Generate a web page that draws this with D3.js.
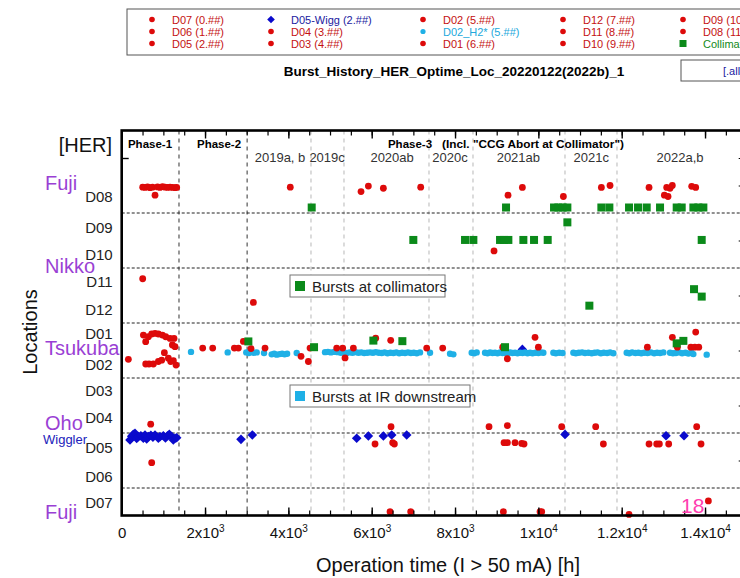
<!DOCTYPE html>
<html><head><meta charset="utf-8">
<script src="https://cdn.jsdelivr.net/npm/d3@7"></script>
<style>
body{margin:0;background:#fff;}
svg{display:block;font-family:"Liberation Sans",Arial,sans-serif;}
</style>
</head><body>
<svg id="c" width="740" height="578"></svg>
<script>
// ---------------- DATA ----------------
// [operation time (h), location value]
const D08 = [[504,11.94],[560,11.93],[620,11.95],[680,11.92],[740,11.94],[800,11.65],[860,11.95],[920,11.93],[980,11.96],[1040,11.94],[1100,11.93],[1160,11.94],[1220,11.93],[1280,11.92],[1320,11.93],
  [4046,11.94],[5744,11.78],[5920,11.98],[6280,11.9],[7176,11.94],[9272,11.65],[9616,11.93],[10600,11.6],[11512,11.93],[11720,12.0],[12656,11.93],[13024,11.65],[13112,11.6],[13080,11.93],[13160,11.9],[13215,12.0],[13680,11.97],[13776,11.93]];
const D10 = [[8936,9.62]];
const D11 = [[504,8.61]];
const D12 = [[3160,7.75]];
const D01 = [[520,6.56],[576,6.32],[640,6.5],[720,6.6],[800,6.62],[880,6.6],[976,6.56],[1056,6.5],[1160,6.44],[1256,6.44],[1216,6.2],[1280,6.14],
  [1944,6.09],[2184,6.09],[2704,6.09],[2800,6.09],[2920,6.33],[3104,6.07],[3440,6.09],[4520,6.09],[5160,6.09],[5304,6.09],[5560,6.09],[6096,6.45],[6456,6.37],[7320,6.09],[7704,6.09],[9144,6.12],[9920,6.48],[10000,6.12],[12616,6.12],[13216,6.48],[13336,6.12],[13660,6.12],[13756,6.12],[13850,6.12],[13776,6.67]];
const D02 = [[160,5.68],[1024,5.92],[576,5.51],[656,5.51],[760,5.51],[880,5.6],[960,5.65],[1120,5.72],[1176,5.6],[1240,5.63],[1304,5.47],[4304,5.79],[4480,5.6],[5360,5.73],[9256,5.7]];
const D04 = [[696,3.32],[6464,3.23],[8816,3.23],[9256,3.27],[10560,3.23],[11376,3.23],[13800,3.23]];
const D05 = [[6080,2.6],[6504,2.65],[6544,2.6],[9176,2.65],[9256,2.65],[9440,2.65],[9600,2.62],[9656,2.6],[11560,2.6],[12656,2.6],[12840,2.6],[12904,2.6],[13128,2.6],[13904,2.6]];
const D06 = [[720,1.92]];
const D07 = [[6440,0.14],[6936,0.14],[9160,0.14],[10040,0.14],[10080,0.14],[12176,0.04],[14080,0.53]];
const D05_Wigg = [[199,2.75],[240,2.88],[279,2.95],[319,2.99],[360,2.8],[399,2.87],[460,2.9],[519,2.81],[559,2.93],[600,2.78],[639,2.87],[700,2.92],[750,2.85],[799,2.93],[879,2.81],[919,2.87],[999,2.9],[1050,2.82],[1100,2.9],[1143,2.95],[1199,2.87],[1239,2.75],[1279,2.81],[1319,2.83],
  [2863,2.77],[3135,2.93],[5640,2.81],[5920,2.89],[6280,2.89],[6480,2.93],[6840,2.93],[9616,6.04],[10640,2.95],[13064,2.9],[13496,2.9]];
const D02_H2 = [[1663,5.95],[2544,5.93],[2990,5.93],[3050,5.91],[3110,5.94],[3170,5.92],[3240,5.93],[3416,5.91],[3600,5.86],[3660,5.88],[3720,5.85],[3790,5.87],[3850,5.88],[3910,5.86],[3970,5.88],[4200,5.91],
  [4880,5.94],[4950,5.95],[5020,5.93],[5100,5.95],[5180,5.94],[5260,5.92],[5330,5.93],[5400,5.91],[5470,5.93],[5540,5.92],[5610,5.94],[5680,5.92],[5750,5.93],[5820,5.91],[5890,5.92],[5960,5.93],[6030,5.92],[6100,5.94],[6170,5.92],[6240,5.91],[6310,5.93],[6380,5.90],[6450,5.92],[6520,5.91],[6590,5.93],[6660,5.90],[6730,5.92],[6800,5.91],[6870,5.93],[6940,5.91],[7010,5.92],[7080,5.90],[7160,5.93],
  [7400,5.92],[7880,5.88],[7960,5.86],[8400,5.92],[8460,5.90],[8520,5.93],
  [8720,5.92],[8780,5.90],[8840,5.93],[8900,5.91],[8960,5.92],[9020,5.90],[9080,5.93],[9140,5.91],[9200,5.92],[9260,5.90],[9320,5.93],[9380,5.91],[9440,5.92],[9500,5.90],[9560,5.92],[9620,5.91],[9680,5.93],[9740,5.90],[9800,5.92],[9860,5.90],[9930,5.92],[10000,5.91],[10060,5.93],[10120,5.92],
  [10360,5.92],[10420,5.90],[10500,5.92],[10580,5.91],
  [10840,5.92],[10900,5.90],[10970,5.92],[11050,5.93],[11120,5.91],[11200,5.92],[11280,5.90],[11350,5.92],[11420,5.93],[11500,5.90],[11570,5.92],[11650,5.91],[11720,5.93],[11800,5.90],
  [12120,5.92],[12180,5.90],[12250,5.93],[12330,5.91],[12400,5.92],[12470,5.90],[12540,5.92],[12620,5.91],[12700,5.93],[12780,5.90],[12850,5.92],[12920,5.91],[13000,5.93],
  [13160,5.92],[13230,5.90],[13300,5.91],[13380,5.93],[13450,5.90],[13530,5.92],[13600,5.89],[13680,5.91],[13720,5.87],[14040,5.85]];
const Collimator = [[4560,11.2],[9224,11.2],[10376,11.2],[10480,11.2],[10584,11.2],[10696,11.2],[11512,11.2],[11704,11.2],[12176,11.2],[12392,11.2],[12600,11.2],[12920,11.2],[13320,11.2],[13440,11.2],[13720,11.2],[13840,11.2],[13960,11.2],
  [10696,10.66],
  [6999,10.02],[8240,10.02],[8440,10.02],[9080,10.02],[9176,10.02],[9280,10.02],[9640,10.02],[9896,10.02],[10224,10.02],[13920,10.02],
  [13736,8.23],[13920,7.96],[11224,7.63],
  [3040,6.33],[4616,6.12],[6040,6.36],[6736,6.34],[9200,6.12],[13320,6.26],[13480,6.35]];

const xTicks = [0,2000,4000,6000,8000,10000,12000,14000];
const xTickLabels = [["0",""],["2x10","3"],["4x10","3"],["6x10","3"],["8x10","3"],["1x10","4"],["1.2x10","4"],["1.4x10","4"]];
const locLabels = ["D08","D09","D10","D11","D12","D01","D02","D03","D04","D05","D06","D07"];
const locLabelPos = [11.6,10.45,9.5,8.5,7.5,6.6,5.5,4.55,3.55,2.45,1.4,0.45];
const sectionLines = [1,3,5,7,9,11];
const phaseLines = [1375,3010];
const periodLines = [4543,5335,7375,8431,10639,11887];
const periodLabels = ["2019a, b","2019c","2020ab","2020c","2021ab","2021c","2022a,b"];
const periodLabelPos = [3800,4930,6490,7880,9520,11270,13400];
const regionLabels = [["Fuji",183],["Nikko",266],["Tsukuba",348],["Oho",423],["Fuji",512]];
const legendCols = [
  [["D07 (0.##)","red"],["D06 (1.##)","red"],["D05 (2.##)","red"]],
  [["D05-Wigg (2.##)","blue"],["D04 (3.##)","red"],["D03 (4.##)","red"]],
  [["D02 (5.##)","red"],["D02_H2* (5.##)","cyan"],["D01 (6.##)","red"]],
  [["D12 (7.##)","red"],["D11 (8.##)","red"],["D10 (9.##)","red"]],
  [["D09 (10.##)","red"],["D08 (11.##)","red"],["Collimators","green"]]
];

// ---------------- DRAW ----------------
const C = {red:"#dd0a0a", redText:"#c41010", blue:"#0a0acc", cyan:"#1fb0e6", green:"#0b8a1a", purple:"#9a3fd4", pink:"#ff3fb0"};
const svg = d3.select("#c");
const x = d3.scaleLinear().domain([0,15000]).range([121.7, 746.7]);
const y = d3.scaleLinear().domain([0,14]).range([515.5,130.5]);
const X0 = x(0), X1 = x(15000), Y0 = y(0), Y1 = y(14);

// top legend
const lg = svg.append("g");
lg.append("rect").attr("x",127).attr("y",9).attr("width",640).attr("height",46).attr("fill","#fff").attr("stroke","#555").attr("stroke-width",1);
const colX = [152,271,423,563,683];
const rowY = [19.5,31.5,43.5];
function marker(g, kind, cx, cy, s){
  if(kind==="blue"){ g.append("path").attr("d",`M${cx},${cy-4.5*s}L${cx+4.5*s},${cy}L${cx},${cy+4.5*s}L${cx-4.5*s},${cy}Z`).attr("fill",C.blue); }
  else if(kind==="green"){ g.append("rect").attr("x",cx-3.5*s).attr("y",cy-3.5*s).attr("width",7*s).attr("height",7*s).attr("fill",C.green); }
  else if(kind==="cyan"){ g.append("circle").attr("cx",cx).attr("cy",cy).attr("r",2.6*s).attr("fill",C.cyan); }
  else { g.append("circle").attr("cx",cx).attr("cy",cy).attr("r",2.8*s).attr("fill",C.red); }
}
const txtCol = {red:C.redText, blue:"#1a1aa0", cyan:"#22a8dc", green:"#138a20"};
legendCols.forEach((col,i)=>{
  col.forEach((e,j)=>{
    marker(lg, e[1], colX[i], rowY[j], e[1]==="blue"?0.85:1);
    lg.append("text").attr("x",colX[i]+20).attr("y",rowY[j]+4).attr("font-size",11).attr("fill",txtCol[e[1]]).text(e[0]);
  });
});
svg.append("text").attr("x",454).attr("y",76).attr("text-anchor","middle").attr("font-size",13.5).attr("font-weight","bold").text("Burst_History_HER_Optime_Loc_20220122(2022b)_1");
svg.append("rect").attr("x",681).attr("y",60).attr("width",70).attr("height",21).attr("fill","#fff").attr("stroke","#555");
svg.append("text").attr("x",723).attr("y",75).attr("font-size",11).attr("fill","#1a1aa0").text("[.all]");

// grid lines
const grid = svg.append("g");
grid.selectAll(".pl").data(periodLines).join("line").attr("x1",d=>x(d)).attr("x2",d=>x(d)).attr("y1",Y1).attr("y2",Y0)
  .attr("stroke","#b8b8b8").attr("stroke-width",1).attr("stroke-dasharray","4,4");
grid.selectAll(".ph").data(phaseLines).join("line").attr("x1",d=>x(d)).attr("x2",d=>x(d)).attr("y1",Y1).attr("y2",Y0)
  .attr("stroke","#333").attr("stroke-width",1).attr("stroke-dasharray","4,4");
grid.selectAll(".hl").data(sectionLines).join("line").attr("x1",X0).attr("x2",X1).attr("y1",d=>y(d)).attr("y2",d=>y(d))
  .attr("stroke","#222").attr("stroke-width",1.2).attr("stroke-dasharray","3,2");

// inner legend boxes
function box(x0,y0,w,kind,label){
  svg.append("rect").attr("x",x0).attr("y",y0).attr("width",w).attr("height",22).attr("fill","#fff").attr("stroke","#777");
  svg.append("rect").attr("x",x0+5).attr("y",y0+6).attr("width",10).attr("height",10).attr("fill",kind==="green"?C.green:C.cyan);
  svg.append("text").attr("x",x0+22).attr("y",y0+16.5).attr("font-size",15).attr("fill","#222").text(label);
}
box(290,275,155,"green","Bursts at collimators");
box(290,385,180,"cyan","Bursts at IR downstream");

// marks
const pts = svg.append("g");
function diamonds(data){
  pts.selectAll(null).data(data).join("path")
    .attr("d",d=>{const cx=x(d[0]),cy=y(d[1]),r=4.8;return `M${cx},${cy-r}L${cx+r},${cy}L${cx},${cy+r}L${cx-r},${cy}Z`;})
    .attr("fill",C.blue);
}
function dots(data,col,r){
  pts.selectAll(null).data(data).join("circle").attr("cx",d=>x(d[0])).attr("cy",d=>y(d[1])).attr("r",r).attr("fill",col);
}
function squares(data){
  pts.selectAll(null).data(data).join("rect").attr("x",d=>x(d[0])-4).attr("y",d=>y(d[1])-4).attr("width",8).attr("height",8).attr("fill",C.green);
}
diamonds(D05_Wigg);
dots(D02_H2, C.cyan, 3.2);
[D08,D10,D11,D12,D01,D02,D04,D05,D06,D07].forEach(s=>dots(s,C.red,3.4));
squares(Collimator);

// frame & axes
const bottomAxis = d3.axisBottom(x).tickValues(xTicks).tickSize(-8).tickPadding(12).tickFormat((d,i)=>"");
const minor = d3.range(0,15000,500);
svg.append("g").attr("transform",`translate(0,${Y0})`).call(d3.axisBottom(x).tickValues(minor).tickSize(-5).tickFormat(""))
  .call(g=>g.select(".domain").remove()).selectAll("line").attr("stroke-width",1.2);
svg.append("g").attr("transform",`translate(0,${Y1})`).call(d3.axisTop(x).tickValues(minor).tickSize(-5).tickFormat(""))
  .call(g=>g.select(".domain").remove()).selectAll("line").attr("stroke-width",1.2);
svg.append("g").attr("transform",`translate(0,${Y1})`).call(d3.axisTop(x).tickValues(xTicks).tickSize(-8).tickFormat(""))
  .call(g=>g.select(".domain").remove()).selectAll("line").attr("stroke-width",1.4);
const bx = svg.append("g").attr("transform",`translate(0,${Y0})`).call(bottomAxis);
bx.select(".domain").remove();
bx.selectAll("line").attr("stroke-width",1.4);
bx.selectAll("text").attr("font-size",15).attr("fill","#111").attr("font-family","Liberation Sans, Arial, sans-serif")
  .each(function(d,i){
    const t=d3.select(this); t.text("");
    t.append("tspan").text(xTickLabels[i][0]);
    if(xTickLabels[i][1]) t.append("tspan").attr("font-size",10).attr("dy",-6).text(xTickLabels[i][1]);
  });
// right ticks
const ry = d3.axisLeft(y).tickValues([2,4,6,8,10,12,13]).tickSize(8).tickFormat("");
svg.append("g").attr("transform",`translate(${X1},0)`).call(ry).call(g=>g.select(".domain").remove()).selectAll("line").attr("stroke-width",1.2);
svg.append("g").attr("transform",`translate(${X0},0)`).call(d3.axisRight(y).tickValues([13]).tickSize(7).tickFormat("")).call(g=>g.select(".domain").remove()).selectAll("line").attr("stroke-width",1.4);
// left location labels
const ly = svg.append("g").attr("transform",`translate(${X0},0)`).call(d3.axisLeft(y).tickValues(locLabelPos).tickSize(0).tickPadding(9).tickFormat((d,i)=>locLabels[i]));
ly.select(".domain").remove();
ly.selectAll("text").attr("font-size",15).attr("fill","#222").attr("font-family","Liberation Sans, Arial, sans-serif");
svg.append("rect").attr("x",X0).attr("y",Y1).attr("width",X1-X0).attr("height",Y0-Y1).attr("fill","none").attr("stroke","#000").attr("stroke-width",2.6);

// top annotations
svg.append("text").attr("x",x(150)).attr("y",148).attr("font-size",11.5).attr("font-weight","bold").text("Phase-1");
svg.append("text").attr("x",x(1807)).attr("y",148).attr("font-size",11.5).attr("font-weight","bold").text("Phase-2");
svg.append("text").attr("x",x(6390)).attr("y",148).attr("font-size",11.5).attr("font-weight","bold").text("Phase-3");
svg.append("text").attr("x",x(7690)).attr("y",148).attr("font-size",11.8).attr("font-weight","bold").text("(Incl. \"CCG Abort at Collimator\")");
svg.selectAll(".per").data(periodLabels).join("text").attr("x",(d,i)=>x(periodLabelPos[i])).attr("y",162).attr("text-anchor","middle")
  .attr("font-size",13).attr("fill","#333").text(d=>d);

// left labels
svg.append("text").attr("x",112).attr("y",152).attr("text-anchor","end").attr("font-size",20).attr("fill","#111").text("[HER]");
regionLabels.forEach(r=>{
  svg.append("text").attr("x",45).attr("y",r[1]+7).attr("font-size",20).attr("fill",C.purple).text(r[0]);
});
svg.append("text").attr("x",43).attr("y",444).attr("font-size",13).attr("fill","#2222bb").text("Wiggler");
svg.append("text").attr("transform","translate(37,332) rotate(-90)").attr("text-anchor","middle").attr("font-size",20).attr("fill","#111").text("Locations");
svg.append("text").attr("x",448).attr("y",572).attr("text-anchor","middle").attr("font-size",20).attr("fill","#111").text("Operation time (I > 50 mA) [h]");
svg.append("text").attr("x",681).attr("y",513).attr("font-size",21).attr("fill",C.pink).text("18");
</script>
</body></html>
